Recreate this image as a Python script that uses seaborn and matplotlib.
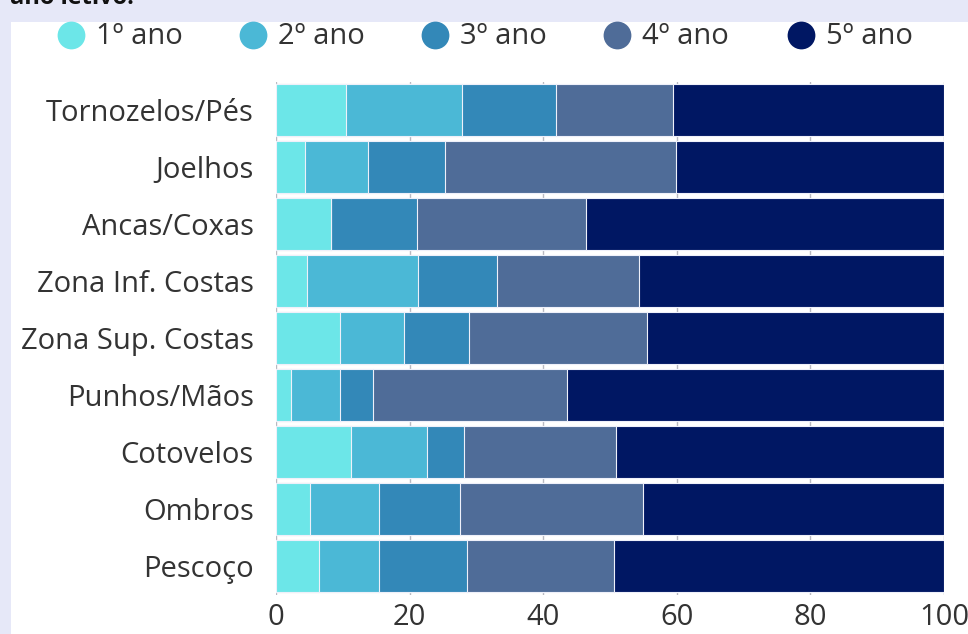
import matplotlib
matplotlib.use("Agg")
import matplotlib.pyplot as plt
from matplotlib.lines import Line2D
from matplotlib.patches import Rectangle
import numpy as np
import pandas as pd
import seaborn as sns

# Injury location by school year (percent of cases, each row sums to 100)
regions = ["Tornozelos/Pés", "Joelhos", "Ancas/Coxas", "Zona Inf. Costas",
           "Zona Sup. Costas", "Punhos/Mãos", "Cotovelos", "Ombros", "Pescoço"]
ano1 = [10.5, 4.4, 8.3, 4.7, 9.6, 2.3, 11.2, 5.1, 6.5]
ano2 = [17.3, 9.3, 0.0, 16.6, 9.6, 7.3, 11.4, 10.3, 8.9]
ano3 = [14.1, 11.6, 12.8, 11.8, 9.7, 4.9, 5.6, 12.2, 13.2]
ano4 = [17.5, 34.6, 25.3, 21.2, 26.7, 29.1, 22.7, 27.4, 22.0]
ano5 = [40.6, 40.1, 53.6, 45.7, 44.4, 56.4, 49.1, 45.0, 49.4]
series_names = ["1º ano", "2º ano", "3º ano", "4º ano", "5º ano"]
colors = ["#6ce6e8", "#4bb8d6", "#3388b8", "#4f6c98", "#001763"]

sns.set_theme(style="white")
plt.rcParams["font.family"] = ["Open Sans", "DejaVu Sans"]

df = pd.DataFrame({"regiao": regions, "1º ano": ano1, "2º ano": ano2,
                   "3º ano": ano3, "4º ano": ano4, "5º ano": ano5})
cum = df[series_names].cumsum(axis=1)

W, H = 968, 634
fig = plt.figure(figsize=(W / 100, H / 100), dpi=100)
fig.patch.set_facecolor("#e6e8f8")
fig.patches.append(Rectangle((11 / W, 0), 1, 1 - 22 / H, transform=fig.transFigure,
                             facecolor="white", edgecolor="none", zorder=-5))
# tail of the heading above the panel
fig.text(10 / W, 1 - 4 / H, "ano letivo.", fontsize=17, fontweight="bold",
         color="#111111", ha="left", va="baseline")

ax = fig.add_axes([276 / W, 1 - 594.5 / H, (944 - 276) / W, (594.5 - 81.5) / H])
ax.set_zorder(2)
ax.set_facecolor("white")

# stacked bars: draw cumulative totals from the outermost segment inwards
for name, col in reversed(list(zip(series_names, colors))):
    sns.barplot(x=cum[name], y=df["regiao"], orient="h", color=col, width=0.9,
                edgecolor="#eef0fa", linewidth=0.8, ax=ax, saturation=1, zorder=3)

ax.set_xlim(0, 100)
ax.set_xticks([0, 20, 40, 60, 80, 100])
ax.xaxis.grid(True, color="#b8b8c0", linewidth=1, zorder=0)
ax.set_axisbelow(True)
ax.set_xlabel("")
ax.set_ylabel("")
for s in ax.spines.values():
    s.set_visible(False)
ax.tick_params(axis="both", length=0, labelsize=21, colors="#333333")
ax.tick_params(axis="y", pad=16)
ax.tick_params(axis="x", pad=6)

# legend row across the top of the panel
legend_x = [71, 253, 435, 617, 801]
for xc, name, col in zip(legend_x, series_names, colors):
    fig.add_artist(Line2D([xc / W], [1 - 35 / H], marker="o", linestyle="none",
                          markersize=20, markerfacecolor=col, markeredgecolor="none",
                          transform=fig.transFigure))
    fig.text((xc + 25) / W, 1 - 36 / H, name, fontsize=21, color="#333333",
             ha="left", va="center")

fig.savefig("out.png", dpi=100, facecolor=fig.get_facecolor())
